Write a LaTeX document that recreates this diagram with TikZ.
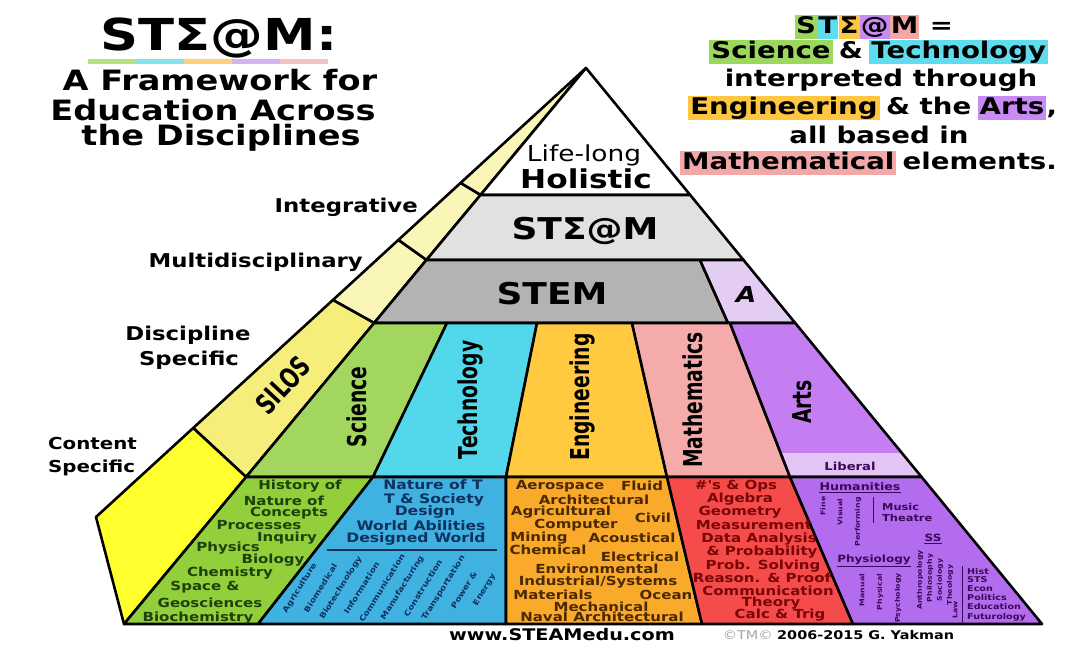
\documentclass[tikz,border=0pt]{standalone}
\usepackage{fontspec}
\usepackage{graphicx}
\usetikzlibrary{positioning}
\setmainfont{DejaVu Sans}
\newfontfamily\wideface{DejaVu Sans}[FakeStretch=1.2]
\newcommand\pxsize[1]{\fontsize{#1}{#1}\selectfont}
\newcommand\slim[1]{\scalebox{0.72}[1]{#1}}

\definecolor{bandpale}{HTML}{FAF6B8}
\definecolor{silos}{HTML}{F5EE7A}
\definecolor{content}{HTML}{FFFF2E}
\definecolor{steamgray}{HTML}{E1E1E1}
\definecolor{stemgray}{HTML}{B3B3B3}
\definecolor{artslight}{HTML}{E4CDF3}
\definecolor{liberal}{HTML}{E2C4F5}
\definecolor{scitop}{HTML}{A2D65E}
\definecolor{techtop}{HTML}{52D8EA}
\definecolor{engtop}{HTML}{FFC940}
\definecolor{mathtop}{HTML}{F6ABAB}
\definecolor{artstop}{HTML}{C57DF2}
\definecolor{scibot}{HTML}{93CF3A}
\definecolor{techbot}{HTML}{3FB2E2}
\definecolor{engbot}{HTML}{FAAA2A}
\definecolor{mathbot}{HTML}{F54B4B}
\definecolor{artsbot}{HTML}{B46CEF}
\definecolor{sciink}{HTML}{1E400A}
\definecolor{techink}{HTML}{10305E}
\definecolor{engink}{HTML}{4A2800}
\definecolor{mathink}{HTML}{7A0505}
\definecolor{artsink}{HTML}{3A0858}
\definecolor{hlgreen}{HTML}{9CD85E}
\definecolor{hlcyan}{HTML}{5FDDEE}
\definecolor{hlorange}{HTML}{FFC640}
\definecolor{hlpurple}{HTML}{C88BF4}
\definecolor{hlpink}{HTML}{F4A7A7}
\definecolor{bargreen}{HTML}{B8E27E}
\definecolor{barcyan}{HTML}{86E3EE}
\definecolor{barorange}{HTML}{FFD27A}
\definecolor{barlilac}{HTML}{D5B2F0}
\definecolor{barpink}{HTML}{F3C3C3}

\tikzset{
  rim/.style={line width=2.6pt, line join=round},
  word/.style={inner sep=0pt, font=\wideface\bfseries\pxsize{#1}},
  word/.default=19,
  subject/.style={inner sep=0pt, rotate=90, font=\bfseries\pxsize{26}},
  rtext/.style={inner xsep=2pt, inner ysep=1pt, text height=17pt, text depth=5pt, font=\wideface\bfseries\pxsize{23}},
  hl/.style={rtext, fill=#1},
  scitxt/.style={word=12.5, text=sciink},
  techtxt/.style={word=13, text=techink},
  techrot/.style={word=7.5, text=techink, rotate=58},
  engtxt/.style={word=12.5, text=engink},
  mathtxt/.style={word=12.5, text=mathink},
  artstxt/.style={word=#1, text=artsink},
  artstxt/.default=9,
  artsrot/.style={word=6.5, text=artsink, rotate=90}
}

\begin{document}
\begin{tikzpicture}[x=1pt, y=-1pt]
    \useasboundingbox (0,0) rectangle (1073,648);
    \fill[white] (0,0) rectangle (1073,648);

    % yellow band on the left
    \filldraw[rim, fill=bandpale] (586,68) -- (460.5,183) -- (480.5,195) -- cycle;
    \filldraw[rim, fill=bandpale] (460.5,183) -- (398.3,240) -- (426.4,260) -- (480.5,195) -- cycle;
    \filldraw[rim, fill=bandpale] (398.3,240) -- (332.9,300) -- (374.1,323) -- (426.4,260) -- cycle;
    \filldraw[rim, fill=silos] (332.9,300) -- (193.2,428) -- (246.1,477) -- (374.1,323) -- cycle;
    \filldraw[rim, fill=content] (193.2,428) -- (96,517) -- (124,624) -- (246.1,477) -- cycle;

    % levels
    \filldraw[rim, fill=white] (586,68) -- (480.5,195) -- (690.2,195) -- cycle;
    \filldraw[rim, fill=steamgray] (480.5,195) -- (426.4,260) -- (743.5,260) -- (690.2,195) -- cycle;
    \filldraw[rim, fill=stemgray] (426.4,260) -- (374.1,323) -- (728,323) -- (700,260) -- cycle;
    \filldraw[rim, fill=artslight] (700,260) -- (728,323) -- (795.2,323) -- (743.5,260) -- cycle;

    % subject columns
    \filldraw[rim, fill=scitop] (374.1,323) -- (246.1,477) -- (373,477) -- (447,323) -- cycle;
    \filldraw[rim, fill=techtop] (447,323) -- (373,477) -- (506,477) -- (537,323) -- cycle;
    \filldraw[rim, fill=engtop] (537,323) -- (506,477) -- (667,477) -- (632,323) -- cycle;
    \filldraw[rim, fill=mathtop] (632,323) -- (667,477) -- (790,477) -- (730,323) -- cycle;
    \fill[artstop] (730,323) -- (780.6,453) -- (901.9,453) -- (795.2,323) -- cycle;
    \fill[liberal] (780.6,453) -- (790,477) -- (921.6,477) -- (901.9,453) -- cycle;
    \draw[rim] (730,323) -- (790,477) -- (921.6,477) -- (795.2,323) -- cycle;

    % content panels
    \filldraw[rim, fill=scibot] (246.1,477) -- (124,624) -- (258,624) -- (373,477) -- cycle;
    \filldraw[rim, fill=techbot] (373,477) -- (258,624) -- (506,624) -- (506,477) -- cycle;
    \filldraw[rim, fill=engbot] (506,477) -- (506,624) -- (702,624) -- (667,477) -- cycle;
    \filldraw[rim, fill=mathbot] (667,477) -- (702,624) -- (853,624) -- (790,477) -- cycle;
    \filldraw[rim, fill=artsbot] (790,477) -- (853,624) -- (1042,624) -- (921.6,477) -- cycle;

    % title
    \node[word=44] (title) at (219,38) {STΣ@M:};
    \draw[bargreen, line width=5pt] (88,61) -- (136,61);
    \draw[barcyan, line width=5pt] (136,61) -- (184,61);
    \draw[barorange, line width=5pt] (184,61) -- (232,61);
    \draw[barlilac, line width=5pt] (232,61) -- (280,61);
    \draw[barpink, line width=5pt] (280,61) -- (328,61);
    \node[word=28] (sub1) at (220,80) {A Framework for};
    \node[word=28] (sub2) at (213,110) {Education Across};
    \node[word=28] (sub3) at (221,138) {the Disciplines};

    % definition on the right
    \node[hl=hlgreen, inner xsep=1pt, anchor=west] (dS) at (795,27) {S};
    \node[hl=hlcyan, inner xsep=1pt, right=0pt of dS] (dT) {T};
    \node[hl=hlorange, inner xsep=1pt, right=0pt of dT] (dE) {Σ};
    \node[hl=hlpurple, inner xsep=1pt, right=0pt of dE] (dA) {@};
    \node[hl=hlpink, inner xsep=1pt, right=0pt of dA] (dM) {M};
    \node[rtext, right=8pt of dM] (deq) {=};
    \node[hl=hlgreen] (dsci) at (771,52) {Science};
    \node[rtext, right=4pt of dsci] (damp) {\&};
    \node[hl=hlcyan, right=4pt of damp] (dtech) {Technology};
    \node[rtext] (dint) at (881,80) {interpreted through};
    \node[hl=hlorange] (deng) at (784,108) {Engineering};
    \node[rtext, right=4pt of deng] (dthe) {\& the};
    \node[hl=hlpurple, right=4pt of dthe] (darts) {Arts};
    \node[rtext, inner xsep=0pt, right=0pt of darts] (dcomma) {,};
    \node[rtext] (dbase) at (879,137) {all based in};
    \node[hl=hlpink, anchor=west] (dmath) at (680,163) {Mathematical};
    \node[rtext, right=4pt of dmath] (delem) {elements.};

    % levels on the left
    \node[word, anchor=east] (integ) at (418,207) {Integrative};
    \node[word, anchor=east] (multi) at (363,262) {Multidisciplinary};
    \node[word] (disc1) at (188,335) {Discipline};
    \node[word] (disc2) at (189,360) {Specific};
    \node[word=16.5, anchor=west] (cont1) at (48,443) {Content};
    \node[word=16.5, anchor=west] (cont2) at (48,468) {Specific};

    % pyramid labels
    \node[inner sep=0pt, font=\wideface\pxsize{22}] (life) at (584,155) {Life-long};
    \node[word=26] (holi) at (586,179) {Holistic};
    \node[word=30] (steam) at (585,231) {STΣ@M};
    \node[word=30] (stem) at (552,294) {STEM};
    \node[word=22, font=\wideface\bfseries\itshape\pxsize{22}] (alet) at (746,294) {A};
    \node[subject, rotate=-43, font=\bfseries\pxsize{28}] (silo) at (283,385) {\slim{SILOS}};
    \node[subject] (sci) at (357,407) {\slim{Science}};
    \node[subject] (tech) at (470,400) {\slim{Technology}};
    \node[subject] (eng) at (582,397) {\slim{Engineering}};
    \node[subject] (math) at (693,400) {\slim{Mathematics}};
    \node[subject] (arts) at (802,402) {\slim{Arts}};

    % science panel
    \node[scitxt] (s1) at (300,486) {History of};
    \node[scitxt] (s2) at (284,501) {Nature of};
    \node[scitxt] (s3) at (289,513) {Concepts};
    \node[scitxt] (s4) at (259,525) {Processes};
    \node[scitxt] (s5) at (287,538) {Inquiry};
    \node[scitxt] (s6) at (228,548) {Physics};
    \node[scitxt] (s7) at (273,560) {Biology};
    \node[scitxt] (s8) at (230,573) {Chemistry};
    \node[scitxt] (s9) at (205,587) {Space \&};
    \node[scitxt] (s10) at (210,603) {Geosciences};
    \node[scitxt] (s11) at (198,618) {Biochemistry};

    % technology panel
    \node[techtxt] (t1) at (433,485) {Nature of T};
    \node[techtxt] (t2) at (434,500) {T \& Society};
    \node[techtxt] (t3) at (425,512) {Design};
    \node[techtxt] (t4) at (421,526) {World Abilities};
    \node[techtxt] (t5) at (416,539) {Designed World};
    \draw[techink, line width=1.2pt] (327,550) -- (497,550);
    \node[techrot] (tw1) at (300,588) {Agriculture};
    \node[techrot] (tw2) at (320.5,588) {Biomedical};
    \node[techrot] (tw3) at (341,588) {Biotechnology};
    \node[techrot] (tw4) at (361.5,588) {Information};
    \node[techrot] (tw5) at (382,588) {Communication};
    \node[techrot] (tw6) at (402.5,588) {Manufacturing};
    \node[techrot] (tw7) at (423,588) {Construction};
    \node[techrot] (tw8) at (443.5,588) {Transportation};
    \node[techrot] (tw9) at (464,590) {Power \&};
    \node[techrot] (tw10) at (484.5,590) {Energy};

    % engineering panel
    \node[engtxt] (e1) at (560,486) {Aerospace};
    \node[engtxt] (e2) at (642,486) {Fluid};
    \node[engtxt] (e3) at (594,500) {Architectural};
    \node[engtxt] (e4) at (561,512) {Agricultural};
    \node[engtxt] (e5) at (653,518) {Civil};
    \node[engtxt] (e6) at (576,525) {Computer};
    \node[engtxt] (e7) at (539,538) {Mining};
    \node[engtxt] (e8) at (632,538) {Acoustical};
    \node[engtxt] (e9) at (548,550) {Chemical};
    \node[engtxt] (e10) at (640,557) {Electrical};
    \node[engtxt] (e11) at (597,569) {Environmental};
    \node[engtxt] (e12) at (598,582) {Industrial/Systems};
    \node[engtxt] (e13) at (553,595) {Materials};
    \node[engtxt] (e14) at (666,595) {Ocean};
    \node[engtxt] (e15) at (601,607) {Mechanical};
    \node[engtxt] (e16) at (602,617) {Naval Architectural};

    % mathematics panel
    \node[mathtxt] (m1) at (736,486) {\#'s \& Ops};
    \node[mathtxt] (m2) at (740,499) {Algebra};
    \node[mathtxt] (m3) at (740,512) {Geometry};
    \node[mathtxt] (m4) at (754,525) {Measurement};
    \node[mathtxt] (m5) at (759,539) {Data Analysis};
    \node[mathtxt] (m6) at (762,552) {\& Probability};
    \node[mathtxt] (m7) at (763,566) {Prob. Solving};
    \node[mathtxt] (m8) at (762,578) {Reason. \& Proof};
    \node[mathtxt] (m9) at (768,591) {Communication};
    \node[mathtxt] (m10) at (771,603) {Theory};
    \node[mathtxt] (m11) at (780,615) {Calc \& Trig};

    % arts panel
    \node[artstxt=11] (lib) at (850,466) {Liberal};
    \node[artstxt=10.5] (hum) at (860,487) {Humanities};
    \draw[artsink, line width=1pt] ([yshift=-1.5pt]hum.south west) -- ([yshift=-1.5pt]hum.south east);
    \node[artsrot] (a1) at (823,506) {Fine};
    \node[artsrot] (a2) at (840,512) {Visual};
    \node[artsrot] (a3) at (858,522) {Performing};
    \draw[artsink, line width=1pt] (873,497) -- (873,523);
    \node[artstxt=9.5, anchor=west] (mus) at (882,507) {Music};
    \node[artstxt=9.5, anchor=west] (the) at (882,518) {Theatre};
    \node[artstxt=10] (ss) at (933,538) {SS};
    \draw[artsink, line width=1pt] ([yshift=-1.5pt]ss.south west) -- ([yshift=-1.5pt]ss.south east);
    \node[artstxt=10] (phys) at (874,560) {Physiology};
    \draw[artsink, line width=1pt] ([yshift=-1pt]phys.south west) -- ([yshift=-1pt]phys.south east);
    \node[artsrot] (p1) at (862,590) {Manual};
    \node[artsrot] (p2) at (880,592) {Physical};
    \node[artsrot] (p3) at (898,598) {Psychology};
    \node[artsrot] (q1) at (920,580) {Anthropology};
    \node[artsrot] (q2) at (930,578) {Philosophy};
    \node[artsrot] (q3) at (940,580) {Sociology};
    \node[artsrot] (q4) at (950,585) {Theology};
    \node[artsrot] (q5) at (955,610) {Law};
    \draw[artsink, line width=1pt] (962,566) -- (962,625);
    \node[artstxt=8, anchor=west] (h1) at (967,572) {Hist};
    \node[artstxt=8, anchor=west] (h2) at (967,580) {STS};
    \node[artstxt=8, anchor=west] (h3) at (967,589) {Econ};
    \node[artstxt=8, anchor=west] (h4) at (967,598) {Politics};
    \node[artstxt=8, anchor=west] (h5) at (967,607) {Education};
    \node[artstxt=8, anchor=west] (h6) at (967,617) {Futurology};

    % footer
    \node[word=16] (site) at (562,635) {www.STEAMedu.com};
    \node[inner sep=0pt, font=\wideface\pxsize{12}, text=gray!70, anchor=east] (tm) at (773,635) {©TM©};
    \node[word=12, anchor=west] (yak) at (777,635) {2006-2015 G. Yakman};
\end{tikzpicture}
\end{document}
